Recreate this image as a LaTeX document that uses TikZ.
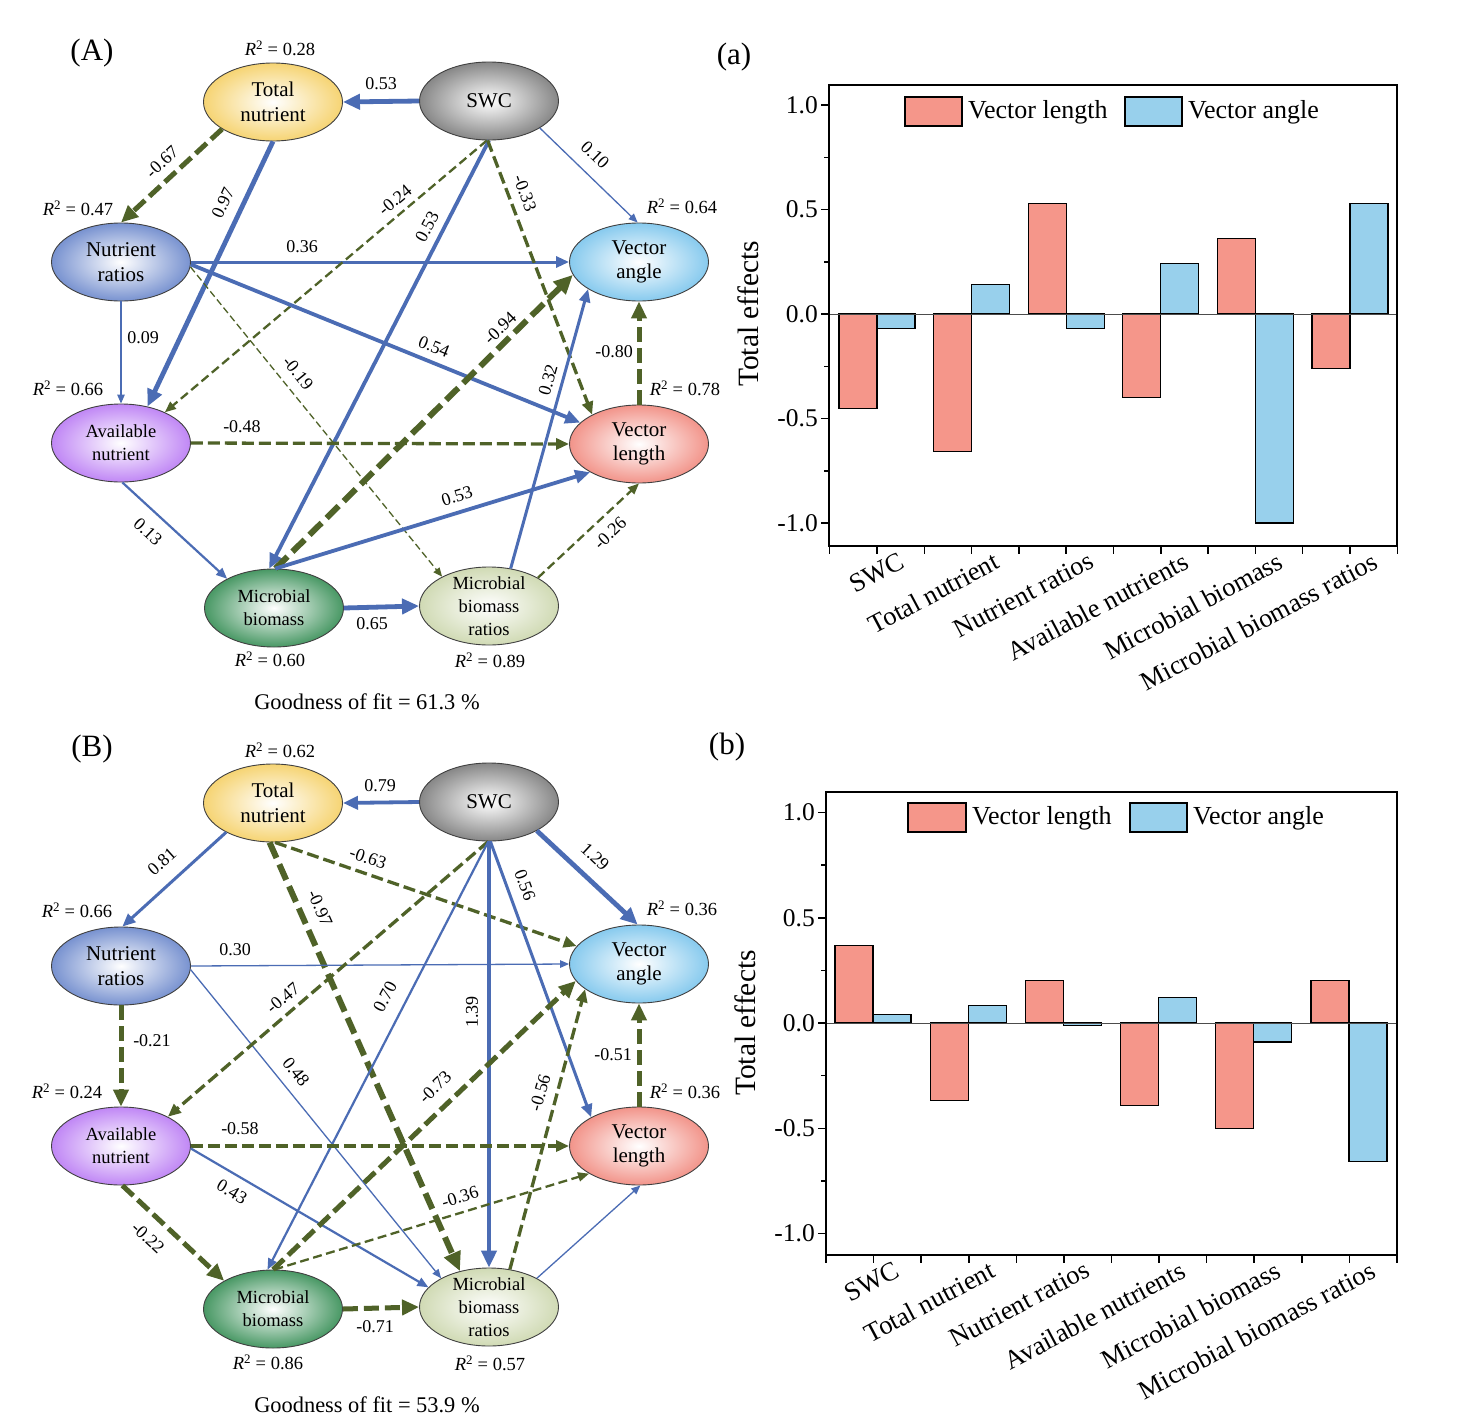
\documentclass[tikz,border=0pt]{standalone}
\usepackage{fontspec}
\setmainfont{Liberation Serif}
\usetikzlibrary{arrows.meta,shapes.geometric}
\definecolor{blueC}{RGB}{75,108,180}
\definecolor{greenC}{RGB}{79,98,40}
\definecolor{cTN}{RGB}{246,212,115}
\definecolor{cSWC}{RGB}{135,135,135}
\definecolor{cNR}{RGB}{120,146,208}
\definecolor{cVA}{RGB}{135,202,238}
\definecolor{cAN}{RGB}{192,135,245}
\definecolor{cVL}{RGB}{242,148,138}
\definecolor{cMB}{RGB}{72,152,100}
\definecolor{cMBR}{RGB}{208,218,180}
\definecolor{barL}{RGB}{245,150,138}
\definecolor{barA}{RGB}{152,208,236}
\tikzset{
 ell/.style={ellipse, draw=black!75, line width=0.9pt, minimum width=139pt, minimum height=78pt, inner sep=0pt, inner color=white, outer color=#1},
 etx/.style={font=\fontsize{21}{24.5}\selectfont, align=center, inner sep=0pt},
 ets/.style={font=\fontsize{18.5}{23}\selectfont, align=center, inner sep=0pt},
 lab/.style={font=\fontsize{18}{18}\selectfont, inner sep=0.5pt},
 rsq/.style={font=\fontsize{18.5}{18.5}\selectfont, inner sep=0pt},
 pan/.style={font=\fontsize{31}{31}\selectfont, inner sep=0pt},
 gof/.style={font=\fontsize{22.4}{22.4}\selectfont, inner sep=0pt},
 b1/.style={draw=blueC, line width=1.3pt, -{Triangle[length=9pt,width=7.5pt]}},
 b2/.style={draw=blueC, line width=2.2pt, -{Triangle[length=11pt,width=9pt]}},
 b3/.style={draw=blueC, line width=3pt, -{Triangle[length=13pt,width=11pt]}},
 b35/.style={draw=blueC, line width=3.8pt, -{Triangle[length=15pt,width=13pt]}},
 b4/.style={draw=blueC, line width=4.8pt, -{Triangle[length=17pt,width=15pt]}},
 g1/.style={draw=greenC, line width=1.3pt, dash pattern=on 7pt off 3.5pt, -{Triangle[length=9pt,width=7.5pt]}},
 g2/.style={draw=greenC, line width=2.3pt, dash pattern=on 9pt off 4.5pt, -{Triangle[length=11pt,width=9pt]}},
 g3/.style={draw=greenC, line width=3.3pt, dash pattern=on 12pt off 5pt, -{Triangle[length=13pt,width=11pt]}},
 g4/.style={draw=greenC, line width=5pt, dash pattern=on 15pt off 6pt, -{Triangle[length=17pt,width=15pt]}},
 g5/.style={draw=greenC, line width=6pt, dash pattern=on 17pt off 7pt, -{Triangle[length=19pt,width=17pt]}},
 frm/.style={line width=1.5pt, draw=black},
 tkl/.style={font=\fontsize{25.5}{25.5}\selectfont, anchor=east, inner sep=0pt},
 xl/.style={font=\fontsize{26.5}{26.5}\selectfont, rotate=28, anchor=north east, inner sep=0pt},
 leg/.style={font=\fontsize{26}{26}\selectfont, anchor=west, inner sep=0pt},
 ytl/.style={font=\fontsize{29.5}{29.5}\selectfont, rotate=90, inner sep=0pt},
 barLs/.style={fill=barL, draw=black, line width=1.1pt},
 barAs/.style={fill=barA, draw=black, line width=1.1pt},
}
\newcommand{\rsqt}[1]{\textit{R}\textsuperscript{2} = #1}
\begin{document}
\begin{tikzpicture}[x=1pt,y=-1pt]
\useasboundingbox[fill=white] (0,0) rectangle (1457,1424);

% ================= Panel A =================
\node[pan] (pA) at (92,53) {(A)};
\node[ell=cTN]  (A-TN)  at (273,102) {};
\node[ell=cSWC] (A-SWC) at (489,101) {};
\node[ell=cNR]  (A-NR)  at (121,262) {};
\node[ell=cVA]  (A-VA)  at (639,262) {};
\node[ell=cAN]  (A-AN)  at (121,443) {};
\node[ell=cVL]  (A-VL)  at (639,444) {};
\node[ell=cMB]  (A-MB)  at (274,608) {};
\node[ell=cMBR] (A-MBR) at (489,606) {};

\draw[b4] (A-SWC.west) -- (A-TN.east);
\draw[g4] (A-TN.208) -- (A-NR.north);
\draw[b4] (A-TN.south) -- (A-AN.54);
\draw[b1] (A-SWC.-28) -- (A-VA.92);
\draw[b3] (A-NR.east) -- (A-VA.west);
\draw[g2] (A-SWC.267) -- (A-AN.35);
\draw[b35] (A-SWC.south) -- (A-MB.97);
\draw[g3] (A-SWC.268) -- (A-VL.148);
\draw[b1] (A-NR.south) -- (A-AN.north);
\draw[g1] (A-NR.-4) -- (A-MBR.148);
\draw[b35] (A-NR.-2) -- (A-VL.160);
\draw[g5] (A-MB.88) -- (A-VA.191);
\draw[b3] (A-MBR.60) -- (A-VA.208);
\draw[g4] (A-VL.north) -- (A-VA.south);
\draw[g3] (A-AN.east) -- (A-VL.west);
\draw[b2] (A-AN.-88) -- (A-MB.148);
\draw[b35] (A-MB.88) -- (A-VL.210);
\draw[b4] (A-MB.east) -- (A-MBR.west);
\draw[g2] (A-MBR.30) -- (A-VL.south);

\node[etx] (A-TNt)  at (A-TN)  {Total\\nutrient};
\node[etx] (A-SWCt) at (A-SWC) {SWC};
\node[etx] (A-NRt)  at (A-NR)  {Nutrient\\ratios};
\node[etx] (A-VAt)  at (A-VA)  {Vector\\angle};
\node[ets] (A-ANt)  at (A-AN)  {Available\\nutrient};
\node[etx] (A-VLt)  at (A-VL)  {Vector\\length};
\node[ets] (A-MBt)  at (A-MB)  {Microbial\\biomass};
\node[ets] (A-MBRt) at (A-MBR) {Microbial\\biomass\\ratios};

\node[lab] (A-l1) at (381,84) {0.53};
\node[lab, rotate=43] (A-l2) at (162,162) {-0.67};
\node[lab, rotate=65] (A-l3) at (223,203) {0.97};
\node[lab, rotate=-44] (A-l4) at (595,155) {0.10};
\node[lab] (A-l5) at (302,247) {0.36};
\node[lab, rotate=40] (A-l6) at (395,200) {-0.24};
\node[lab, rotate=62] (A-l7) at (427,227) {0.53};
\node[lab, rotate=-70] (A-l8) at (525,193) {-0.33};
\node[lab] (A-l9) at (143,338) {0.09};
\node[lab, rotate=-51] (A-l10) at (298,373) {-0.19};
\node[lab, rotate=-22] (A-l11) at (434,347) {0.54};
\node[lab, rotate=44] (A-l12) at (500,328) {-0.94};
\node[lab, rotate=74] (A-l13) at (548,380) {0.32};
\node[lab] (A-l14) at (614,352) {-0.80};
\node[lab] (A-l15) at (242,427) {-0.48};
\node[lab, rotate=-43] (A-l16) at (148,532) {0.13};
\node[lab, rotate=17] (A-l17) at (457,496) {0.53};
\node[lab] (A-l18) at (372,624) {0.65};
\node[lab, rotate=44] (A-l19) at (610,533) {-0.26};

\node[rsq] (A-r1) at (280,48) {\rsqt{0.28}};
\node[rsq] (A-r2) at (78,208) {\rsqt{0.47}};
\node[rsq] (A-r3) at (682,206) {\rsqt{0.64}};
\node[rsq] (A-r4) at (68,388) {\rsqt{0.66}};
\node[rsq] (A-r5) at (685,388) {\rsqt{0.78}};
\node[rsq] (A-r6) at (270,659) {\rsqt{0.60}};
\node[rsq] (A-r7) at (490,660) {\rsqt{0.89}};
\node[gof] (A-gof) at (367,702) {Goodness of fit = 61.3 \%};

% ================= Panel B =================
\node[pan] (pB) at (92,749) {(B)};
\node[ell=cTN]  (B-TN)  at (273,803) {};
\node[ell=cSWC] (B-SWC) at (489,802) {};
\node[ell=cNR]  (B-NR)  at (121,966) {};
\node[ell=cVA]  (B-VA)  at (639,964) {};
\node[ell=cAN]  (B-AN)  at (121,1146) {};
\node[ell=cVL]  (B-VL)  at (639,1146) {};
\node[ell=cMB]  (B-MB)  at (273,1309) {};
\node[ell=cMBR] (B-MBR) at (489,1307) {};

\draw[b35] (B-SWC.west) -- (B-TN.east);
\draw[b3] (B-TN.212) -- (B-NR.88);
\draw[g5] (B-TN.265) -- (B-MBR.129);
\draw[g3] (B-TN.-87) -- (B-VA.164);
\draw[b4] (B-SWC.-31) -- (B-VA.92);
\draw[b1] (B-NR.east) -- (B-VA.west);
\draw[g4] (B-NR.south) -- (B-AN.north);
\draw[b1] (B-NR.-3) -- (B-MBR.149);
\draw[g3] (B-SWC.269) -- (B-AN.32);
\draw[b2] (B-SWC.269) -- (B-MB.98);
\draw[b4] (B-SWC.south) -- (B-MBR.north);
\draw[b3] (B-SWC.272) -- (B-VL.149);
\draw[g3] (B-AN.east) -- (B-VL.west);
\draw[b2] (B-AN.-2) -- (B-MBR.162);
\draw[g4] (B-AN.-88) -- (B-MB.150);
\draw[g4] (B-MB.90) -- (B-VA.195);
\draw[g2] (B-MB.88) -- (B-VL.209);
\draw[g4] (B-MB.east) -- (B-MBR.west);
\draw[g3] (B-MBR.61) -- (B-VA.205);
\draw[g4] (B-VL.north) -- (B-VA.south);
\draw[b1] (B-MBR.31) -- (B-VL.272);

\node[etx] (B-TNt)  at (B-TN)  {Total\\nutrient};
\node[etx] (B-SWCt) at (B-SWC) {SWC};
\node[etx] (B-NRt)  at (B-NR)  {Nutrient\\ratios};
\node[etx] (B-VAt)  at (B-VA)  {Vector\\angle};
\node[ets] (B-ANt)  at (B-AN)  {Available\\nutrient};
\node[etx] (B-VLt)  at (B-VL)  {Vector\\length};
\node[ets] (B-MBt)  at (B-MB)  {Microbial\\biomass};
\node[ets] (B-MBRt) at (B-MBR) {Microbial\\biomass\\ratios};

\node[lab] (B-l1) at (380,786) {0.79};
\node[lab, rotate=42] (B-l2) at (162,862) {0.81};
\node[lab, rotate=-66] (B-l3) at (320,908) {-0.97};
\node[lab, rotate=-19] (B-l4) at (368,858) {-0.63};
\node[lab, rotate=-43] (B-l5) at (595,857) {1.29};
\node[lab] (B-l6) at (235,950) {0.30};
\node[lab] (B-l7) at (152,1041) {-0.21};
\node[lab, rotate=-52] (B-l8) at (296,1072) {0.48};
\node[lab, rotate=40] (B-l9) at (283,998) {-0.47};
\node[lab, rotate=62] (B-l10) at (385,997) {0.70};
\node[lab, rotate=90] (B-l11) at (472,1012) {1.39};
\node[lab, rotate=-70] (B-l12) at (525,885) {0.56};
\node[lab] (B-l13) at (240,1129) {-0.58};
\node[lab, rotate=-31] (B-l14) at (232,1192) {0.43};
\node[lab, rotate=-43] (B-l15) at (148,1238) {-0.22};
\node[lab, rotate=44] (B-l16) at (435,1087) {-0.73};
\node[lab, rotate=17] (B-l17) at (460,1197) {-0.36};
\node[lab] (B-l18) at (375,1327) {-0.71};
\node[lab, rotate=74] (B-l19) at (540,1093) {-0.56};
\node[lab] (B-l20) at (613,1055) {-0.51};

\node[rsq] (B-r1) at (280,750) {\rsqt{0.62}};
\node[rsq] (B-r2) at (77,910) {\rsqt{0.66}};
\node[rsq] (B-r3) at (682,908) {\rsqt{0.36}};
\node[rsq] (B-r4) at (67,1091) {\rsqt{0.24}};
\node[rsq] (B-r5) at (685,1091) {\rsqt{0.36}};
\node[rsq] (B-r6) at (268,1362) {\rsqt{0.86}};
\node[rsq] (B-r7) at (490,1363) {\rsqt{0.57}};
\node[gof] (B-gof) at (367,1405) {Goodness of fit = 53.9 \%};

% ================= Chart (a) =================
\node[pan] (pa) at (734,57) {(a)};
\foreach \c/\l/\a in {877/-0.45/-0.07, 971.6/-0.66/0.14, 1066.2/0.53/-0.07, 1160.8/-0.40/0.24, 1255.4/0.36/-1.00, 1350/-0.26/0.53} {
  \draw[barLs] ({\c-38},314) rectangle (\c,{314-209*\l});
  \draw[barAs] (\c,314) rectangle ({\c+38},{314-209*\a});
}
\draw[line width=1pt, black!70] (829,314) -- (1397,314);
\draw[frm] (829,85) rectangle (1397,546);
\foreach \v/\t [count=\i] in {1.0/1.0, 0.5/0.5, 0/0.0, -0.5/-0.5, -1.0/-1.0} {
  \draw[frm] (829,{314-209*\v}) -- ++(-8,0);
  \node[tkl] (ta\i) at (818,{314-209*\v}) {\t};
}
\foreach \v in {0.75,0.25,-0.25,-0.75} \draw[frm] (829,{314-209*\v}) -- ++(-5,0);
\foreach \k in {0,...,12} \draw[frm] ({829.7+47.3*\k},546) -- ++(0,8);
\foreach \c/\t [count=\i] in {877/SWC, 971.6/Total nutrient, 1066.2/Nutrient ratios, 1160.8/Available nutrients, 1255.4/Microbial biomass, 1350/Microbial biomass ratios}
  \node[xl] (xa\i) at ({\c+21},551) {\t};
\draw[barLs] (905,97) rectangle (962,126);
\node[leg] (la1) at (968,112) {Vector length};
\draw[barAs] (1125,97) rectangle (1182,126);
\node[leg] (la2) at (1188,112) {Vector angle};
\node[ytl] (ya) at (748,314) {Total effects};

% ================= Chart (b) =================
\node[pan] (pb) at (727,747) {(b)};
\foreach \c/\l/\a in {873/0.37/0.04, 968.2/-0.37/0.085, 1063.4/0.20/-0.01, 1158.6/-0.39/0.12, 1253.8/-0.50/-0.09, 1349/0.20/-0.66} {
  \draw[barLs] ({\c-38},1023) rectangle (\c,{1023-210.5*\l});
  \draw[barAs] (\c,1023) rectangle ({\c+38},{1023-210.5*\a});
}
\draw[line width=1pt, black!70] (826,1023) -- (1397,1023);
\draw[frm] (826,792) rectangle (1397,1255);
\foreach \v/\t [count=\i] in {1.0/1.0, 0.5/0.5, 0/0.0, -0.5/-0.5, -1.0/-1.0} {
  \draw[frm] (826,{1023-210.5*\v}) -- ++(-8,0);
  \node[tkl] (tb\i) at (815,{1023-210.5*\v}) {\t};
}
\foreach \v in {0.75,0.25,-0.25,-0.75} \draw[frm] (826,{1023-210.5*\v}) -- ++(-5,0);
\foreach \k in {0,...,12} \draw[frm] ({826+47.58*\k},1255) -- ++(0,8);
\foreach \c/\t [count=\i] in {873/SWC, 968.2/Total nutrient, 1063.4/Nutrient ratios, 1158.6/Available nutrients, 1253.8/Microbial biomass, 1349/Microbial biomass ratios}
  \node[xl] (xb\i) at ({\c+20},1260) {\t};
\draw[barLs] (908,803) rectangle (966,832);
\node[leg] (lb1) at (972,818) {Vector length};
\draw[barAs] (1130,803) rectangle (1187,832);
\node[leg] (lb2) at (1193,818) {Vector angle};
\node[ytl] (yb) at (745,1023) {Total effects};
\end{tikzpicture}
\end{document}
